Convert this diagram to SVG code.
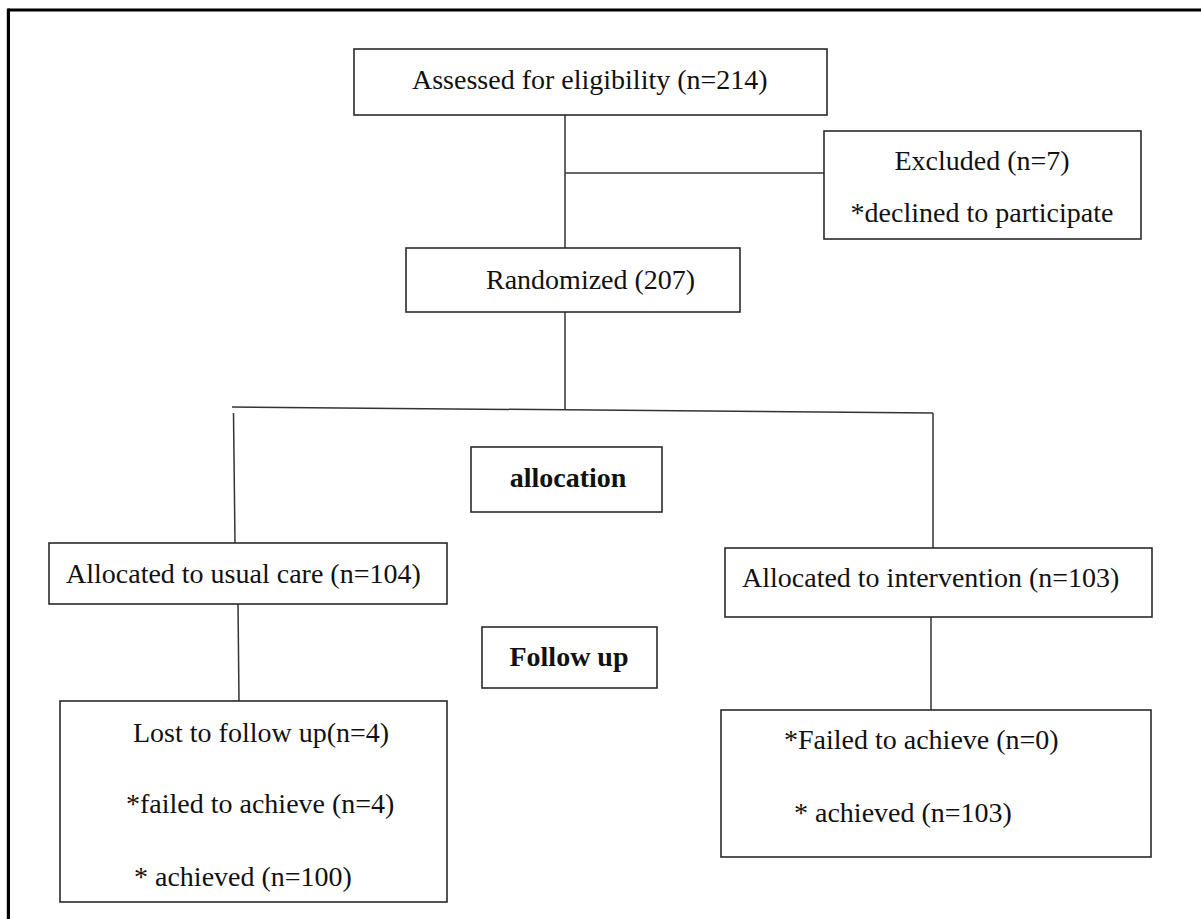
<svg xmlns="http://www.w3.org/2000/svg" width="1201" height="919" viewBox="0 0 1201 919">
<style>
.box{fill:#fff;stroke:#2a2a2a;stroke-width:1.6}
.lbl{font-family:"Liberation Serif","Times New Roman",serif;font-size:28px;fill:#111}
.b{font-weight:bold}
.c{text-anchor:middle}
.con line{stroke:#333;stroke-width:1.5}
.frame{stroke:#000;stroke-width:3.2;fill:none}
</style>
<rect width="1201" height="919" fill="#fff"/>
<g id="frame">
<line class="frame" x1="8.4" y1="10" x2="1201" y2="10"/>
<line class="frame" x1="8.4" y1="8.4" x2="8.4" y2="919"/>
</g>
<g id="connectors" class="con">
<line x1="565" y1="115" x2="565" y2="248"/>
<line x1="565" y1="173" x2="824" y2="173"/>
<line x1="565" y1="312" x2="565" y2="409"/>
<line x1="232" y1="407" x2="933" y2="413"/>
<line x1="233.5" y1="413" x2="235" y2="543"/>
<line x1="933" y1="413" x2="933" y2="548"/>
<line x1="238" y1="604" x2="239" y2="701"/>
<line x1="931" y1="617" x2="931" y2="710"/>
</g>
<g id="assessed">
<rect class="box" x="354" y="49" width="473" height="66"/>
<text class="lbl" x="412" y="89">Assessed for eligibility (n=214)</text>
</g>
<g id="excluded">
<rect class="box" x="824" y="131" width="317" height="108"/>
<text class="lbl c" x="982" y="170">Excluded (n=7)</text>
<text class="lbl c" x="982" y="222">*declined to participate</text>
</g>
<g id="randomized">
<rect class="box" x="406" y="248" width="334" height="64"/>
<text class="lbl" x="486" y="289">Randomized (207)</text>
</g>
<g id="allocation">
<rect class="box" x="471" y="447" width="191" height="65"/>
<text class="lbl b c" x="568" y="487">allocation</text>
</g>
<g id="usual-care">
<rect class="box" x="49" y="543" width="398" height="61"/>
<text class="lbl" x="66" y="583">Allocated to usual care (n=104)</text>
</g>
<g id="intervention">
<rect class="box" x="725" y="548" width="427" height="69"/>
<text class="lbl" x="742" y="587">Allocated to intervention (n=103)</text>
</g>
<g id="follow-up">
<rect class="box" x="482" y="627" width="175" height="61"/>
<text class="lbl b c" x="569" y="666">Follow up</text>
</g>
<g id="usual-outcome">
<rect class="box" x="60" y="701" width="387" height="201"/>
<text class="lbl" x="133" y="742">Lost to follow up(n=4)</text>
<text class="lbl" x="126" y="813">*failed to achieve (n=4)</text>
<text class="lbl" x="134" y="886">* achieved (n=100)</text>
</g>
<g id="intervention-outcome">
<rect class="box" x="721" y="710" width="430" height="147"/>
<text class="lbl" x="784" y="749">*Failed to achieve (n=0)</text>
<text class="lbl" x="794" y="822">* achieved (n=103)</text>
</g>
</svg>
